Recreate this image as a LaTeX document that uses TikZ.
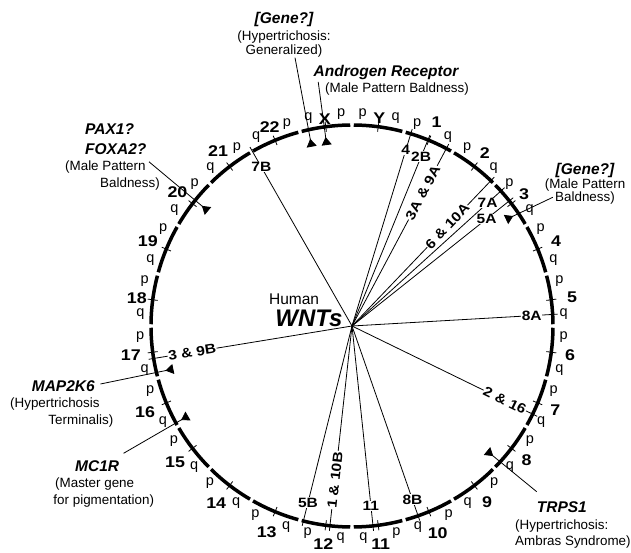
\documentclass[tikz,border=0pt]{standalone}
\usepackage{fontspec}
\setmainfont{Liberation Sans}
\newfontfamily\chrfont[FakeStretch=1.15]{Liberation Sans}
\usetikzlibrary{
    arrows.meta,
    positioning}
\newcommand*{\rmid}{201}
\newcommand*{\rtin}{196}
\newcommand*{\rtout}{206}
\newcommand*{\arcgap}{0.5}
\newcommand*{\gname}[1]{{\fontsize{15.5}{17}\selectfont\bfseries\itshape #1}}

\begin{document}
\begin{tikzpicture}[x=1pt,y=1pt,
    chrom/.style={line width=3.5pt},
    cen/.style={line width=0.8pt},
    chrnum/.style={font=\chrfont\bfseries\fontsize{15.5}{17}\selectfont,inner sep=0pt},
    arm/.style={font=\fontsize{14.5}{16}\selectfont,inner sep=0pt},
    wnt/.style={line width=0.8pt},
    wntlab/.style={font=\chrfont\bfseries\fontsize{13.5}{15}\selectfont,fill=white,inner sep=0.6pt},
    gene/.style={font=\fontsize{13.4}{16.5}\selectfont,inner sep=0pt},
    genelink/.style={line width=0.8pt,-{Triangle[reversed,width=10pt,length=8pt]}}]
    \useasboundingbox[fill=white] (-352,-227) rectangle (279,326);
    \coordinate (hub) at (0,0);
    \foreach \chr/\rl [count=\i from 0] in {Y/210,1/221,2/218,3/217,4/221,5/222,6/220,7/220,8/220,9/222,10/224,11/220,12/220,13/223,14/223,15/223,16/224,17/223,18/217,19/221,20/220,21/220,22/215,X/209} {
      \pgfmathsetmacro{\sa}{90-15*\i-\arcgap}
      \pgfmathsetmacro{\ea}{90-15*(\i+1)+\arcgap}
      \pgfmathsetmacro{\ma}{90-15*\i-7.5}
      \pgfmathsetmacro{\pa}{\i<12 ? \ma+4.6 : \ma-4.6}
      \pgfmathsetmacro{\qa}{\i<12 ? \ma-4.4 : \ma+4.4}
      \draw[chrom] (\sa:\rmid) arc[start angle=\sa,end angle=\ea,radius=\rmid];
      \draw[cen] (\ma:\rtin) -- (\ma:\rtout);
      \node[chrnum] (n\chr) at (\ma:\rl) {\chr};
      \node[arm] (p\chr) at (\pa:212) {p};
      \node[arm] (q\chr) at (\qa:212) {q};
    }
    \foreach \ang/\rr/\rot/\lab [count=\k] in {73/184/0/4,67.8/183/0/2B,62/151/62/3A \& 9A,46.3/138/46.3/6 \& 10A,42.2/183/0/7A,38.5/172/0/5A,3.3/180/0/8A,-26/170/-26/2 \& 16,-70.8/184/0/8B,-84/181/0/11,-96.3/155/83.7/1 \& 10B,-104/182/0/5B,189.3/162/9.3/3 \& 9B,119.7/183/0/7B} {
      \coordinate (w\k) at (\ang:\rtout);
      \draw[wnt] (hub) -- (w\k);
      \node[wntlab,rotate=\rot] (l\k) at (\ang:\rr) {\lab};
    }
    \node[font=\fontsize{15.5}{17}\selectfont,anchor=base east,inner sep=0pt] (human) at (-32.7,21) {Human};
    \node[font=\fontsize{24}{26}\selectfont\bfseries\itshape,anchor=base east,inner sep=0pt] (wnts) at (-9.3,-0.7) {WNTs};

    \node[gene,align=center,anchor=north] (gx) at (-68,314.3) {\gname{[Gene?]}\\[1pt](Hypertrichosis:\\[-2.5pt]Generalized)};
    \node[gene,align=center,anchor=north] (gar) at (34,261) {\gname{Androgen Receptor}\\\hspace*{22pt}(Male Pattern Baldness)};
    \node[gene,align=center,anchor=north] (gc3) at (233,162.7) {\gname{[Gene?]}\\[-2.5pt](Male Pattern\\[-3.5pt]Baldness)};
    \node[gene,align=left,anchor=north west] (gpax) at (-287,202.7) {\hspace*{20pt}\gname{PAX1?}\\[3.5pt]\hspace*{20pt}\gname{FOXA2?}\\(Male Pattern\\\hspace*{35pt}Baldness)};
    \node[gene,align=left,anchor=north west] (gmap) at (-342,-54) {\hspace*{21.7pt}\gname{MAP2K6}\\(Hypertrichosis\\\hspace*{38.3pt}Terminalis)};
    \node[gene,align=left,anchor=north west] (gmc) at (-298.7,-134) {\hspace*{21.7pt}\gname{MC1R}\\\hspace*{1.7pt}(Master gene\\for pigmentation)};
    \node[gene,align=left,anchor=north west] (gtr) at (163,-175.7) {\hspace*{21.7pt}\gname{TRPS1}\\(Hypertrichosis:\\Ambras Syndrome)};

    \coordinate (tx) at (-40.3,179.3);
    \coordinate (tar) at (-25.3,181);
    \coordinate (tc3) at (154,106.5);
    \coordinate (tpax) at (-144,115);
    \coordinate (tmap) at (-178.7,-43);
    \coordinate (tmc) at (-164,-90);
    \coordinate (ttr) at (135,-125);
    \draw[genelink] ([xshift=11pt]gx.south) -- (tx);
    \draw[genelink] ([xshift=15.3pt,yshift=-1.5pt]gar.west) -- (tar);
    \draw[genelink] ([xshift=8.2pt,yshift=7.4pt]gc3.south west) -- (tc3);
    \draw[genelink] ([xshift=-11pt,yshift=-5pt]gpax.east) -- (tpax);
    \draw[genelink] ([xshift=-13pt,yshift=-4pt]gmap.north east) -- (tmap);
    \draw[genelink] ([xshift=19.8pt,yshift=6.7pt]gmc.north) -- (tmc);
    \draw[genelink] ([xshift=21.7pt,yshift=10pt]gtr.north west) -- (ttr);
\end{tikzpicture}
\end{document}
